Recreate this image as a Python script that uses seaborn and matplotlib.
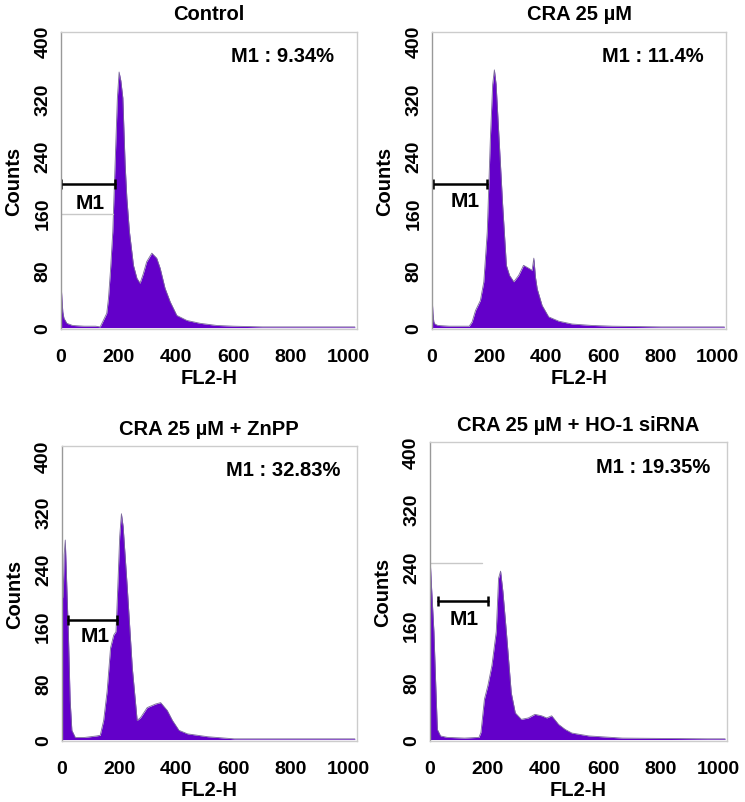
import seaborn as sns
import matplotlib.pyplot as plt
import pandas as pd

# panel titles and gate percentages
titles = ["Control", "CRA 25 µM", "CRA 25 µM + ZnPP", "CRA 25 µM + HO-1 siRNA"]
m1_labels = ["M1 : 9.34%", "M1 : 11.4%", "M1 : 32.83%", "M1 : 19.35%"]

# histogram outlines (FL2-H channel, counts)
ctrl_x = [0, 3, 6, 10, 20, 40, 80, 120, 136, 147, 159, 165, 172, 180, 188, 196, 202, 208, 215, 219, 223, 229, 238, 252, 264, 275, 286, 298, 316, 333, 345, 362, 380, 403, 438, 484, 542, 600, 700, 850, 1023]
ctrl_y = [60, 40, 22, 13, 6, 3, 2, 2, 1, 10, 20, 41, 80, 134, 228, 321, 357, 345, 321, 274, 228, 181, 134, 87, 69, 62, 75, 92, 104, 97, 83, 55, 36, 17, 10, 6, 3, 2, 1, 1, 1]

cra_x = [0, 3, 6, 10, 20, 60, 130, 140, 152, 169, 181, 193, 204, 212, 218, 224, 233, 247, 260, 271, 286, 303, 320, 338, 350, 356, 362, 368, 385, 408, 443, 490, 560, 630, 800, 1023]
cra_y = [42, 20, 8, 5, 3, 2, 2, 8, 24, 38, 64, 134, 265, 340, 360, 340, 274, 171, 87, 73, 64, 73, 87, 83, 80, 97, 70, 54, 31, 15, 9, 5, 3, 2, 1, 1]

znpp_x = [0, 2, 5, 8, 12, 17, 23, 29, 35, 47, 80, 120, 134, 146, 158, 170, 181, 189, 195, 202, 208, 214, 228, 246, 263, 275, 298, 327, 345, 368, 386, 409, 439, 509, 602, 800, 1023]
znpp_y = [305, 240, 200, 260, 281, 220, 147, 55, 13, 3, 3, 5, 6, 27, 68, 129, 147, 152, 212, 286, 318, 300, 217, 101, 27, 31, 45, 50, 52, 41, 27, 13, 8, 4, 1, 1, 1]

ho_x = [0, 2, 6, 10, 14, 20, 26, 37, 60, 120, 170, 177, 189, 201, 215, 230, 238, 245, 253, 265, 282, 296, 317, 341, 364, 387, 405, 422, 446, 469, 492, 551, 667, 960, 1023]
ho_y = [265, 242, 210, 180, 150, 80, 14, 5, 3, 2, 3, 10, 56, 75, 103, 150, 224, 234, 206, 150, 65, 37, 28, 30, 35, 33, 30, 33, 21, 14, 9, 5, 2, 1, 1]

# M1 gate bars: start, end, height; label position
gate_start = [0, 3, 23, 29]
gate_end = [188, 193, 191, 200]
gate_y = [201, 200, 168, 192]
gate_lab_x = [101, 117, 117, 119]
gate_lab_y = [175, 178, 147, 168]

# faint grey marker lines left by the cytometer software
ghost_end = [180, None, None, 181]
ghost_y = [158, None, None, 245]

yticks = [0, 80, 160, 240, 320, 400]
xticks = [0, 200, 400, 600, 800, 1000]

series = [(ctrl_x, ctrl_y), (cra_x, cra_y), (znpp_x, znpp_y), (ho_x, ho_y)]

sns.set_theme(style="white")
plt.rcParams['font.family'] = ['Liberation Sans', 'DejaVu Sans']
plt.rcParams['font.weight'] = 'bold'
plt.rcParams['text.color'] = 'black'
plt.rcParams['axes.labelcolor'] = 'black'
plt.rcParams['xtick.color'] = 'black'
plt.rcParams['ytick.color'] = 'black'

fig = plt.figure(figsize=(7.45, 8.03), dpi=100)
boxes = [[0.082, 0.589, 0.397, 0.370],
         [0.580, 0.589, 0.395, 0.370],
         [0.083, 0.076, 0.396, 0.367],
         [0.577, 0.076, 0.399, 0.372]]
purple = "#6300c9"

for i, (xs, ys) in enumerate(series):
    ax = fig.add_axes(boxes[i])
    df = pd.DataFrame({"FL2-H": xs, "Counts": ys})
    ax.fill_between(df["FL2-H"], df["Counts"], 0, color=purple, lw=0)
    sns.lineplot(data=df, x="FL2-H", y="Counts", ax=ax, color="#7a6a9a", lw=0.6)

    # gate marker
    ax.plot([gate_start[i], gate_end[i]], [gate_y[i], gate_y[i]], color="black", lw=1.8,
            marker="|", markersize=7, markeredgewidth=1.8)
    ax.text(gate_lab_x[i], gate_lab_y[i], "M1", ha="center", va="center",
            fontsize=15, fontweight="bold")
    if ghost_end[i] is not None:
        ax.plot([0, ghost_end[i]], [ghost_y[i], ghost_y[i]], color="#c8c8c8", lw=1)

    ax.text(0.75, 0.92, m1_labels[i], transform=ax.transAxes, ha="center", va="center",
            fontsize=14.5, fontweight="bold")

    ax.set_xlim(0, 1030)
    ax.set_ylim(-2, 413)
    ax.set_xticks(xticks)
    ax.set_yticks(yticks)
    ax.tick_params(axis="x", labelsize=14, pad=14, length=0)
    ax.tick_params(axis="y", labelsize=14, pad=7, length=0, labelrotation=90)
    for lab in ax.get_yticklabels():
        lab.set_va("center")
    ax.set_xlabel("FL2-H", fontsize=14.5, fontweight="bold", labelpad=2)
    ax.set_ylabel("Counts", fontsize=14.5, fontweight="bold", labelpad=8)
    ax.set_title(titles[i], fontsize=14.5, fontweight="bold", pad=9)
    for side in ["top", "right", "bottom"]:
        ax.spines[side].set_color("#cccccc")
        ax.spines[side].set_linewidth(1)
    ax.spines["left"].set_color("#999999")
    ax.spines["left"].set_linewidth(1)
    ax.grid(False)

fig.savefig("out.png", dpi=100)
